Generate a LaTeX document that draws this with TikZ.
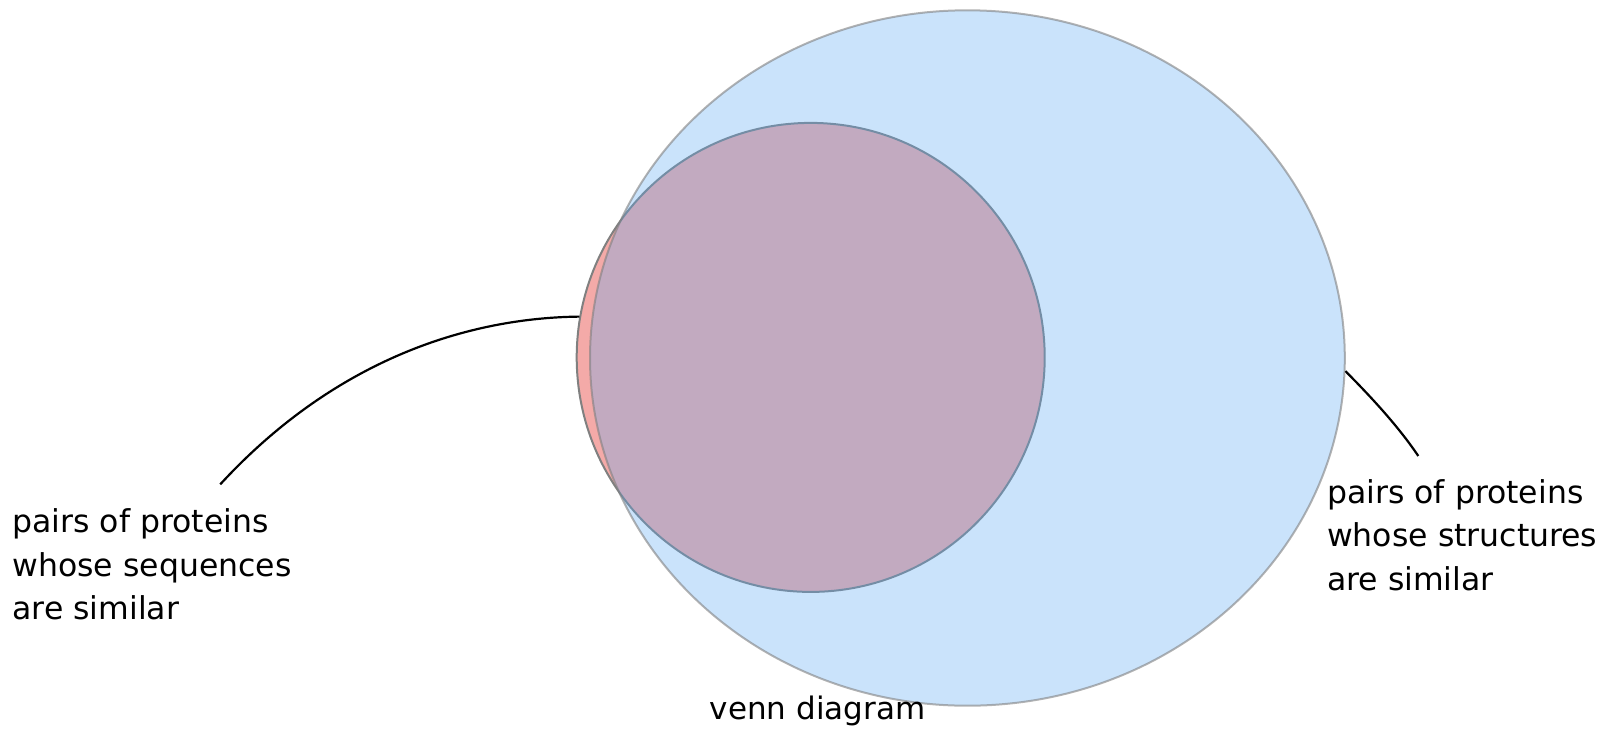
\documentclass[tikz,border=0pt]{standalone}
\usepackage{fontspec}
\setmainfont{DejaVu Sans}
\usetikzlibrary{shapes.geometric}
\definecolor{setred}{RGB}{244,170,168}
\definecolor{setblue}{RGB}{94,170,242}
\definecolor{rimgray}{RGB}{128,128,128}
\tikzset{
  setshape/.style={ellipse, inner sep=0pt},
  label/.style={font=\fontsize{31.5}{43.5}\selectfont, align=left, anchor=base west, inner sep=0pt},
  leader/.style={draw=black, line width=2.2pt}
}
\begin{document}
\begin{tikzpicture}[x=1pt,y=-1pt]
\useasboundingbox (0,0) rectangle (1606,737);
% sequences-similar set (red)
\node[setshape, fill=setred, draw=rimgray, line width=2pt,
      minimum width=468pt, minimum height=469pt] (seq) at (810.7,357.4) {};
% structures-similar set (blue, translucent, on top)
\node[setshape, fill=setblue, fill opacity=0.33, draw=rimgray, draw opacity=0.6, line width=2pt,
      minimum width=754.8pt, minimum height=695.4pt] (str) at (967.4,358.0) {};
% labels (anchored at the baseline of the last line)
\node[label] (lseq) at (12.3,619.6) {pairs of proteins\\whose sequences\\are similar};
\node[label] (lstr) at (1327,590) {pairs of proteins\\whose structures\\are similar};
\node[font=\fontsize{31}{37}\selectfont, anchor=base, inner sep=0pt] (title) at (817.5,719) {venn diagram};
% leaders
\coordinate (lend) at (220.2,484.4);
\coordinate (rend) at (1418.3,456);
\draw[leader] (seq.170.7) .. controls (460,318) and (330,365) .. (lend);
\draw[leader] (str.-2.9) .. controls (1372,398) and (1398,426) .. (rend);
\end{tikzpicture}
\end{document}
